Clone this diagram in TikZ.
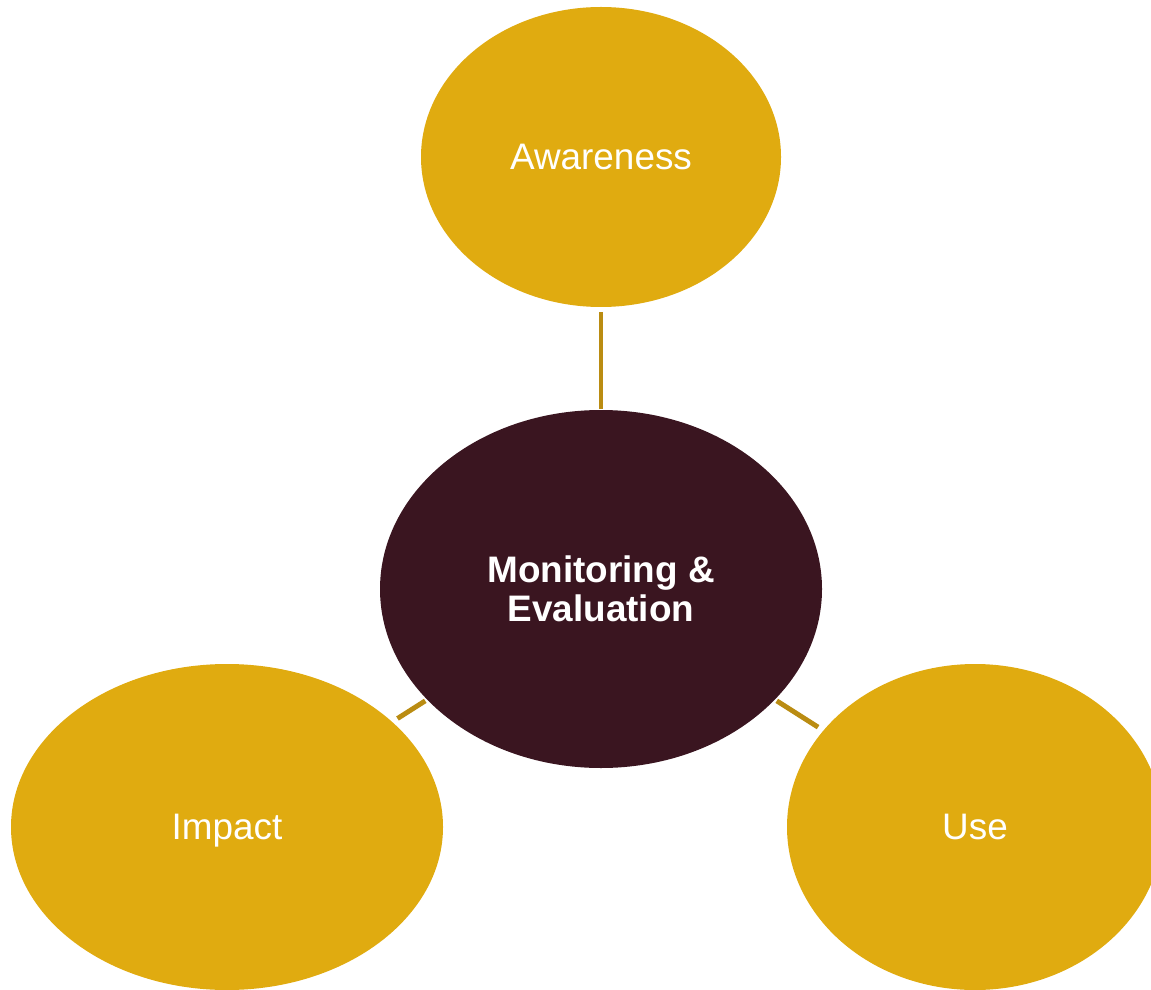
\documentclass[tikz,border=0pt]{standalone}
\usepackage{fontspec}
\setmainfont{Liberation Sans}
\usetikzlibrary{shapes.geometric}
\definecolor{gold}{RGB}{224,171,16}
\definecolor{darkgold}{RGB}{186,140,18}
\definecolor{wine}{RGB}{58,21,32}

\begin{document}
\begin{tikzpicture}[x=0.02cm,y=-0.02cm,
		bubble/.style={ellipse,fill=gold,inner sep=0pt,text=white,text depth=0pt,font=\fontsize{21}{22}\selectfont},
		hub/.style={ellipse,fill=wine,inner sep=0pt,text=white,font=\fontsize{21}{22}\selectfont\bfseries,align=center},
		link/.style={draw=darkgold,line width=2.8pt}]
					\useasboundingbox (0,0) rectangle (1151,989);
					\node[hub,minimum width=442*0.02cm,minimum height=358*0.02cm] (mande) at (601,589) {Monitoring \&\\Evaluation};
					\node[bubble,minimum width=360*0.02cm,minimum height=300*0.02cm] (aware) at (601,157) {Awareness};
					\node[bubble,minimum width=432*0.02cm,minimum height=326*0.02cm] (impact) at (227,827) {Impact};
					\node[bubble,minimum width=376*0.02cm,minimum height=326*0.02cm] (use) at (975,827) {Use};
					\draw[link,shorten <=1*0.02cm,shorten >=5*0.02cm] (mande) -- (aware);
					\draw[link,shorten <=2*0.02cm,shorten >=6*0.02cm] (mande) -- (impact);
					\draw[link,shorten <=2*0.02cm,shorten >=6*0.02cm] (mande) -- (use);
				\end{tikzpicture}
\end{document}
